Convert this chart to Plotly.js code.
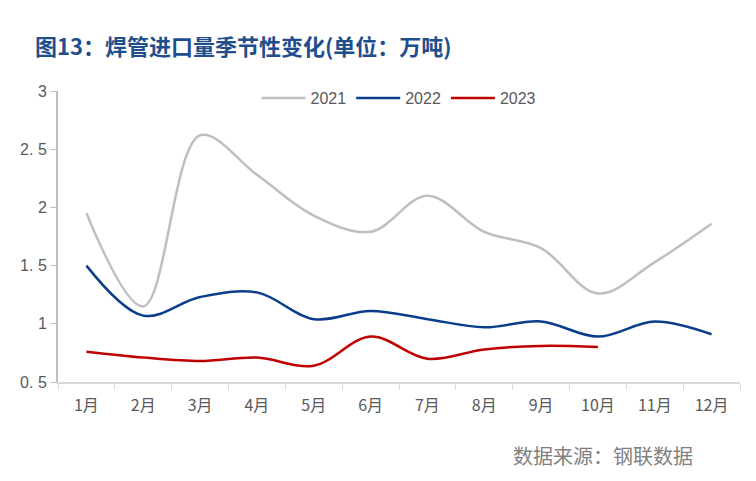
<!DOCTYPE html>
<html><head><meta charset="utf-8">
<script src="https://cdn.plot.ly/plotly-3.0.1.min.js"></script>
<style>body{margin:0;background:#fff}#c{width:756px;height:481px}</style>
</head><body><div id="c"></div>
<script>
var months = ["1月","2月","3月","4月","5月","6月","7月","8月","9月","10月","11月","12月"];
var v2021 = [1.95,1.15,2.62,2.28,1.93,1.79,2.10,1.79,1.65,1.26,1.53,1.86];
var v2022 = [1.50,1.07,1.23,1.27,1.04,1.11,1.04,0.97,1.02,0.89,1.02,0.91];
var v2023 = [0.76,0.71,0.68,0.71,0.64,0.89,0.70,0.78,0.81,0.80];
var yTicks = [0.5,1,1.5,2,2.5,3];
var yTickText = ["0. 5","1","1. 5","2","2. 5","3"];

function tr(name, y, color){
  return {x: months.slice(0, y.length), y: y, name: name, type: "scatter", mode: "lines",
    line: {color: color, width: 2.5, shape: "spline", smoothing: 1}, hoverinfo: "none"};
}
var data = [tr("2021", v2021, "#bfbfbf"), tr("2022", v2022, "#0a3d8a"), tr("2023", v2023, "#c00000")];
var layout = {
  width: 756, height: 481,
  margin: {l: 58, r: 16, t: 91, b: 99},
  paper_bgcolor: "#fff", plot_bgcolor: "#fff",
  font: {family: "Arial, Liberation Sans, sans-serif", color: "#595959"},
  showlegend: true,
  legend: {orientation: "h", x: 0.5, xanchor: "center", y: 0.976, yanchor: "middle",
    font: {size: 16, color: "#595959"}, bgcolor: "rgba(0,0,0,0)", itemwidth: 44, tracegroupgap: 0},
  xaxis: {type: "category", categoryorder: "array", categoryarray: months,
    range: [-0.5, 11.5], showgrid: false, zeroline: false,
    showline: true, linecolor: "#d9d9d9", linewidth: 2,
    ticks: "outside", tickson: "boundaries", ticklen: 6, tickcolor: "#d9d9d9", tickwidth: 1,
    ticklabelstandoff: 8,
    tickfont: {size: 16, color: "#595959", family: "Noto Sans CJK SC, Arial"}, fixedrange: true},
  yaxis: {range: [0.5, 3], tickvals: yTicks, ticktext: yTickText, showgrid: false, zeroline: false,
    showline: true, linecolor: "#bfbfbf", linewidth: 2,
    ticks: "outside", ticklen: 6, tickcolor: "#bfbfbf", tickwidth: 1,
    tickfont: {size: 16, color: "#595959"}, fixedrange: true},
  annotations: [
    {text: "<b>图13：焊管进口量季节性变化(单位：万吨)</b>", xref: "paper", yref: "paper",
     x: -0.037, y: 1.158, xanchor: "left", yanchor: "middle", showarrow: false,
     font: {size: 22, color: "#1f4e8c", family: "Noto Sans CJK SC"}},
    {text: "数据来源：钢联数据", xref: "paper", yref: "paper",
     x: 0.664, y: -0.254, xanchor: "left", yanchor: "middle", showarrow: false,
     font: {size: 20, color: "#7f7f7f", family: "Noto Sans CJK SC"}}
  ]
};
Plotly.newPlot("c", data, layout, {displayModeBar: false, staticPlot: true});
</script></body></html>
